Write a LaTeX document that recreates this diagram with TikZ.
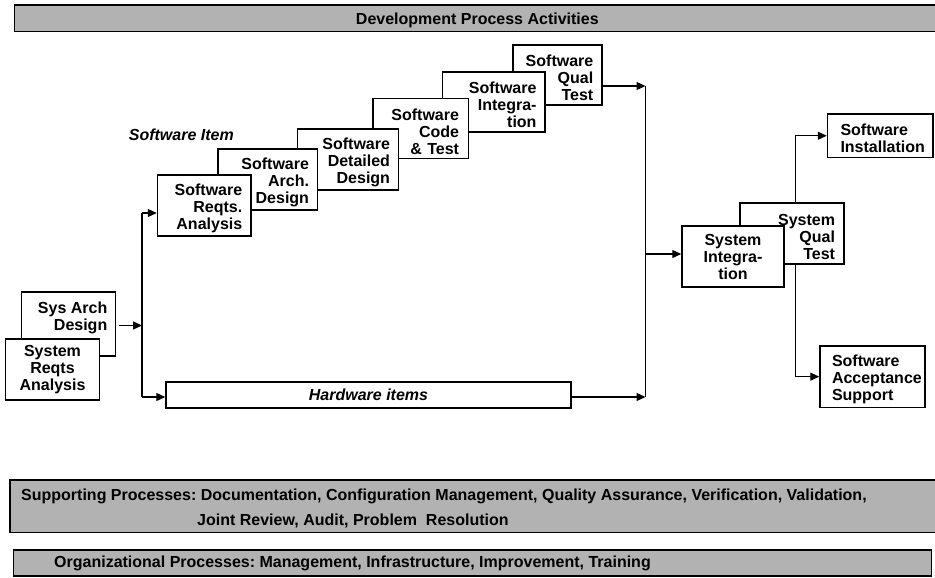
\documentclass[tikz,border=0pt]{standalone}
\usepackage{fontspec}
\setmainfont{Liberation Sans}
\usetikzlibrary{arrows.meta}
\definecolor{bargray}{RGB}{178,178,178}
\frenchspacing
\begin{document}
\begin{tikzpicture}[x=1pt,y=-1pt,
  txt/.style={font=\bfseries\fontsize{16}{17}\selectfont},
  itxt/.style={font=\bfseries\itshape\fontsize{16}{17}\selectfont},
  box/.style={draw, line width=1.5pt, fill=white, inner sep=0pt, txt},
  stack/.style={box, execute at begin node={\rule{0pt}{17.5pt}}},
  bar/.style={draw, line width=1.5pt, fill=bargray, inner sep=0pt},
  wire/.style={line width=1.3pt},
  arr/.style={wire, -{Triangle[length=9pt,width=8pt]}},
]
\useasboundingbox (0,0) rectangle (935,578);
\clip (0,0) rectangle (935,578);

% process bands
\node[bar, minimum width=925.3pt, minimum height=26.7pt] (devbar) at (477.35,18.35) {};
\node[txt, inner sep=0pt] (devtext) at (477.35,20) {Development Process Activities};
\node[bar, minimum width=930pt, minimum height=52.7pt] (supbar) at (475,506.35) {};
\node[txt, font=\bfseries\fontsize{16}{25}\selectfont, anchor=north west, align=left, inner sep=0pt] (suptext) at (21,489)
  {Supporting Processes: Documentation, Configuration Management, Quality Assurance, Verification, Validation,\\
   \hspace*{176pt}Joint Review, Audit, Problem\ \ Resolution};
\node[bar, minimum width=918.4pt, minimum height=26pt] (orgbar) at (472.5,563) {};
\node[txt, anchor=west, inner sep=0pt] (orgtext) at (54,563.5)
  {Organizational Processes: Management, Infrastructure, Improvement, Training};

% junction points of the connectors
\coordinate (lt) at (142,213);
\coordinate (lm) at (142,325.5);
\coordinate (lb) at (142,397);
\coordinate (rt) at (645.5,86);
\coordinate (rm) at (645.5,254);
\coordinate (rb) at (645.5,397);

% system level, left
\node[box, minimum width=94pt, minimum height=64pt] (sysarch) at (68.5,324) {};
\node[txt, anchor=north east, align=right, inner sep=0pt] (sysarchtext) at (107.5,301.5) {Sys Arch\\Design};
\node[stack, align=center, minimum width=94pt, minimum height=61pt] (sysreq) at (52.5,369.5) {System\\Reqts\\Analysis};

% software item staircase (back to front)
\node[stack, align=right, minimum width=89pt, minimum height=60pt, text width=71.6pt] (swqual) at (557.5,75) {Software\\Qual\\Test};
\node[stack, align=right, minimum width=102.5pt, minimum height=60pt, text width=85.5pt] (swint) at (493.75,102) {Software\\Integra-\\tion};
\node[stack, align=right, minimum width=95.5pt, minimum height=60pt, text width=76.5pt] (swcode) at (420.75,128.5) {Software\\Code\\\& Test};
\node[stack, align=right, minimum width=101pt, minimum height=61pt, text width=84pt] (swdet) at (348,159.5) {Software\\Detailed\\Design};
\node[stack, align=right, minimum width=99.5pt, minimum height=61pt, text width=82.5pt] (swarch) at (267.75,179.5) {Software\\Arch.\\Design};
\node[stack, align=right, minimum width=93.5pt, minimum height=61pt, text width=76pt] (swreq) at (204.25,205.5) {Software\\Reqts.\\Analysis};
\node[itxt, anchor=east, inner sep=0pt] (switem) at (234,135) {Software Item};

% hardware items
\node[box, itxt, minimum width=405pt, minimum height=26pt] (hw) at (368.5,395) {Hardware items};

% system level, right
\node[stack, align=right, minimum width=104pt, minimum height=61pt, text width=86pt] (sysqual) at (792,233.5) {System\\Qual\\Test};
\node[stack, align=center, minimum width=102pt, minimum height=61pt] (sysint) at (733,256.5) {System\\Integra-\\tion};
\node[stack, align=left, minimum width=105.5pt, minimum height=43.5pt, text width=79.5pt] (swinst) at (880.25,135.75) {Software\\Installation};
\node[stack, align=left, minimum width=105pt, minimum height=61.3pt, text width=81pt] (swacc) at (872.5,376.65) {Software\\Acceptance\\Support};

% connectors
\draw[wire] (lt) -- (lb);
\draw[arr, shorten <=2.5pt] (sysarch.east |- lm) -- (lm);
\draw[arr] (lt) -- (swreq.west |- lt);
\draw[arr] (lb) -- (hw.west |- lb);

\draw[wire] (rt) -- (rb);
\draw[arr] (swqual.east |- rt) -- (rt);
\draw[arr] (hw.east |- rb) -- (rb);
\draw[arr] (rm) -- (sysint.west |- rm);

\draw[arr] ([xshift=3.7pt]sysqual.north) |- (swinst.west);
\draw[arr] ([xshift=3.7pt]sysqual.south) |- (swacc.west);
\end{tikzpicture}
\end{document}
